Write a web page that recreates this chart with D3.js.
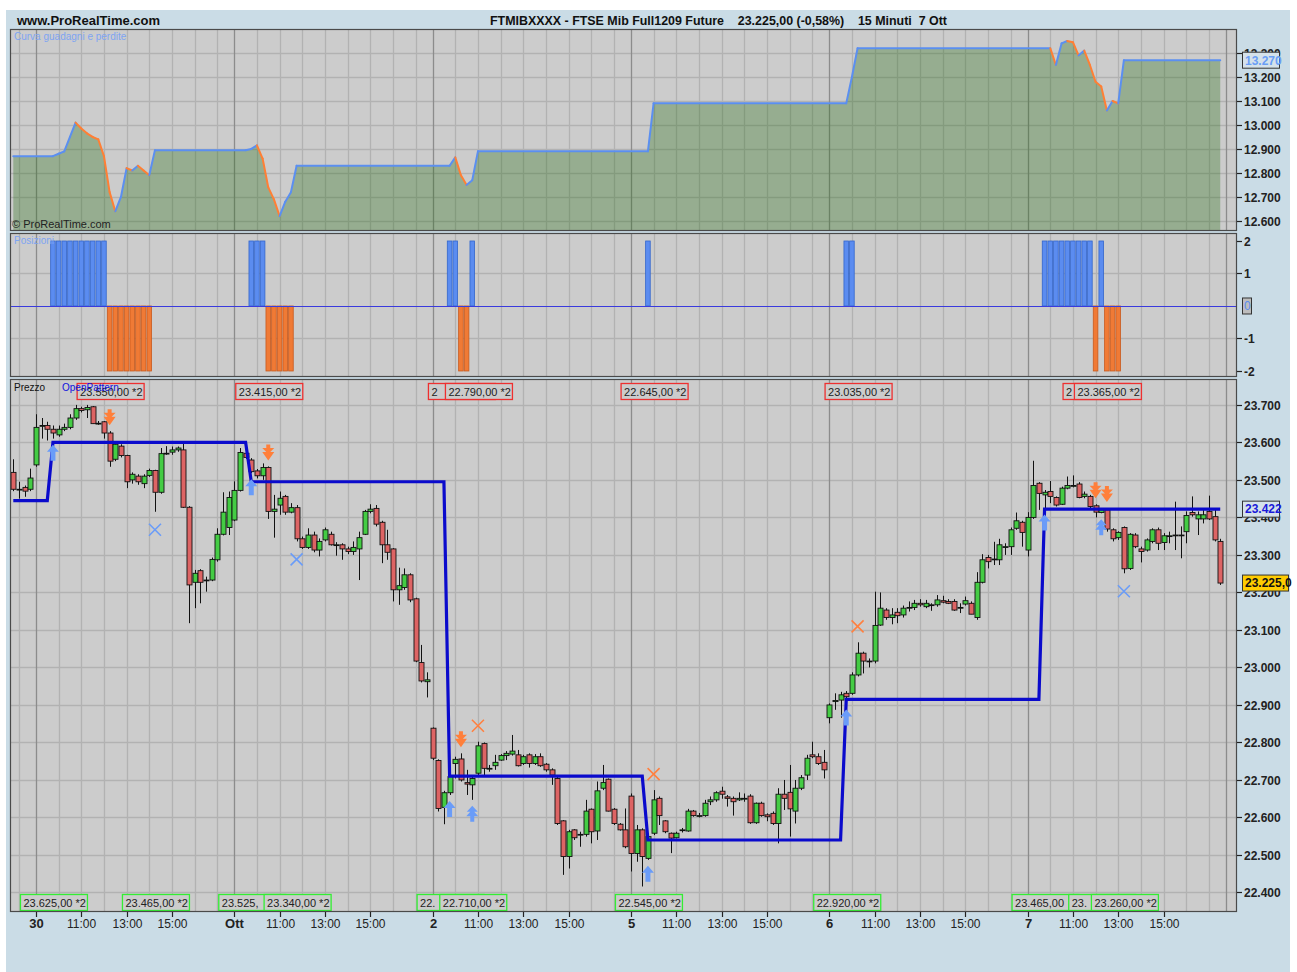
<!DOCTYPE html>
<html>
<head>
<meta charset="utf-8">
<title>FTMIBXXXX - 15 Minuti</title>
<script src="https://cdn.jsdelivr.net/npm/d3@7"></script>
<style>
  body { margin: 0; background: #fff; }
  svg { display: block; }
  text { font-family: "Liberation Sans", Arial, sans-serif; }
</style>
</head>
<body>
<svg id="grafico" width="1297" height="972"></svg>
<script>
// Asse dei tempi
const giorni = ["30", "Ott", "2", "5", "6", "7"];
const orari = ["11:00", "13:00", "15:00"];
const barrePrima = 4;     // 16:45 - 17:30 della seduta precedente
const barreGiorno = 35;   // 9:00 - 17:30, barre da 15 minuti

// Candele: [apertura, massimo, minimo, chiusura]
const barrePre = [[23520,23555,23470,23475],[23475,23495,23450,23475],[23480,23485,23455,23470],[23475,23530,23470,23505]];
const barre30 = [
  [23540,23675,23535,23640],[23645,23665,23610,23645],[23645,23655,23605,23635],[23635,23645,23610,23625],
  [23620,23645,23615,23635],[23635,23650,23630,23640],[23640,23675,23635,23665],[23665,23700,23660,23690],
  [23690,23695,23680,23685],[23687,23700,23665,23693],[23695,23697,23650,23650],[23650,23657,23647,23651],
  [23655,23657,23610,23625],[23625,23630,23535,23550],[23555,23600,23550,23595],[23590,23595,23560,23565],
  [23565,23567,23478,23495],[23500,23520,23490,23515],[23510,23515,23487,23495],[23490,23515,23478,23510],
  [23512,23530,23508,23525],[23525,23527,23415,23467],[23467,23585,23463,23570],[23570,23590,23567,23571],
  [23574,23589,23567,23580],[23580,23589,23575,23585],[23580,23598,23425,23427],[23427,23430,23118,23220],
  [23227,23260,23158,23251],[23258,23262,23171,23227],[23233,23242,23202,23233],[23233,23293,23230,23288],
  [23287,23371,23282,23355],[23355,23467,23352,23414],[23373,23469,23353,23453]
];
const barreOtt = [
  [23393,23496,23390,23472],[23472,23585,23469,23573],[23571,23580,23556,23560],[23553,23558,23518,23522],
  [23524,23529,23504,23511],[23511,23544,23500,23533],[23533,23536,23396,23416],[23416,23460,23346,23422],
  [23433,23469,23407,23451],[23456,23460,23407,23414],[23414,23438,23411,23426],[23426,23433,23336,23343],
  [23343,23349,23316,23320],[23320,23371,23316,23353],[23353,23362,23307,23313],[23313,23344,23296,23336],
  [23340,23373,23336,23367],[23355,23362,23325,23327],[23327,23334,23298,23327],[23327,23331,23287,23316],
  [23316,23322,23302,23309],[23309,23336,23300,23320],[23316,23362,23233,23346],[23355,23420,23353,23416],
  [23416,23435,23411,23422],[23424,23433,23376,23382],[23387,23391,23278,23327],[23327,23367,23287,23307],
  [23316,23318,23176,23207],[23207,23266,23167,23218],[23213,23264,23207,23247],[23247,23251,23174,23180],
  [23183,23186,23014,23017],[23013,23060,22960,22964],[22962,22987,22920,22967]
];
const barre2 = [
  [22838,22840,22753,22758],[22752,22755,22616,22624],[22627,22671,22582,22666],[22666,22727,22660,22709],
  [22744,22762,22704,22755],[22756,22771,22696,22700],[22693,22727,22660,22689],[22687,22713,22647,22704],
  [22718,22802,22713,22791],[22797,22800,22713,22731],[22731,22740,22722,22731],[22738,22767,22727,22747],
  [22753,22769,22751,22765],[22765,22777,22753,22771],[22769,22820,22765,22777],[22767,22780,22736,22738],
  [22744,22767,22740,22762],[22767,22771,22733,22744],[22744,22769,22740,22762],[22762,22771,22735,22738],
  [22742,22745,22722,22727],[22727,22731,22687,22713],[22704,22709,22580,22584],[22591,22593,22447,22496],
  [22496,22567,22464,22562],[22567,22569,22540,22546],[22555,22562,22522,22555],[22555,22647,22549,22617],
  [22622,22624,22531,22562],[22564,22696,22540,22671],[22678,22740,22673,22693],[22702,22704,22616,22617],
  [22622,22625,22580,22584],[22582,22585,22565,22567],[22567,22624,22518,22522]
];
const barre5 = [
  [22657,22664,22456,22504],[22504,22580,22482,22567],[22567,22571,22416,22496],[22491,22553,22487,22549],
  [22558,22673,22553,22647],[22651,22656,22580,22605],[22591,22593,22558,22562],[22558,22560,22505,22545],
  [22546,22562,22544,22558],[22567,22572,22560,22567],[22564,22623,22562,22617],[22617,22620,22602,22605],
  [22605,22612,22600,22605],[22605,22647,22602,22638],[22642,22656,22633,22647],[22647,22670,22642,22666],
  [22670,22682,22650,22662],[22655,22660,22629,22651],[22651,22656,22605,22642],[22647,22667,22644,22651],
  [22651,22664,22642,22651],[22657,22662,22583,22586],[22586,22640,22583,22638],[22638,22642,22602,22605],
  [22607,22611,22590,22602],[22611,22616,22580,22584],[22584,22678,22531,22662],[22662,22700,22620,22651],
  [22667,22740,22549,22623],[22617,22700,22584,22678],[22678,22713,22673,22706],[22713,22767,22700,22758],
  [22767,22802,22758,22762],[22762,22771,22740,22744],[22747,22780,22704,22727]
];
const barre6 = [
  [22866,22904,22851,22900],[22909,22931,22887,22912],[22913,22935,22866,22927],[22931,22937,22904,22922],
  [22931,22987,22927,22980],[22980,23067,22976,23038],[23038,23042,22984,23017],[23017,23024,23000,23017],
  [23017,23202,23011,23112],[23113,23200,23111,23158],[23153,23158,23127,23133],[23133,23158,23115,23140],
  [23147,23158,23118,23138],[23140,23165,23133,23158],[23160,23176,23149,23160],[23160,23180,23153,23171],
  [23171,23182,23162,23167],[23162,23180,23158,23171],[23167,23171,23151,23167],[23167,23193,23162,23180],
  [23178,23191,23171,23174],[23176,23182,23169,23171],[23176,23182,23151,23153],[23160,23171,23145,23160],
  [23169,23189,23165,23178],[23171,23176,23142,23142],[23133,23254,23127,23227],[23227,23302,23224,23287],
  [23293,23300,23264,23282],[23289,23335,23273,23289],[23287,23343,23273,23327],[23322,23331,23300,23322],
  [23322,23373,23300,23367],[23371,23413,23367,23391],[23387,23391,23322,23360]
];
const barre7 = [
  [23313,23414,23296,23400],[23400,23551,23396,23485],[23491,23494,23420,23464],[23460,23473,23424,23467],
  [23469,23497,23438,23456],[23453,23456,23429,23433],[23435,23482,23433,23478],[23478,23509,23475,23485],
  [23485,23512,23480,23485],[23489,23494,23451,23453],[23456,23469,23451,23462],[23456,23460,23425,23429],
  [23431,23435,23400,23414],[23413,23425,23411,23420],[23420,23425,23362,23369],[23367,23371,23336,23343],
  [23346,23363,23340,23360],[23373,23376,23251,23263],[23264,23358,23260,23355],[23353,23358,23318,23322],
  [23316,23322,23280,23309],[23313,23344,23309,23340],[23336,23371,23331,23367],[23367,23373,23313,23331],
  [23333,23358,23313,23351],[23351,23362,23331,23351],[23353,23442,23313,23353],[23353,23376,23291,23351],
  [23362,23416,23331,23405],[23413,23456,23402,23407],[23396,23416,23353,23407],[23396,23424,23384,23407],
  [23416,23458,23393,23396],[23402,23424,23336,23340],[23336,23343,23220,23225]
];

// OpenPattern: [barra da cui parte il livello, livello]
const openPatternLivelli = [[0,23445],[7,23600],[42,23495],[77,22710],[112,22540],[147,22915],[182,23422]];

// Curva guadagni e perdite: [barra, valore]
const equityPunti = [
  [0,12870],[7,12870],[8,12880],[9,12890],[10,12950],[11,13010],[12,12985],[13,12965],[14,12950],[15,12940],
  [16,12870],[17,12720],[18,12640],[19,12700],[20,12820],[21,12810],[22,12830],[23,12810],[24,12790],[25,12895],
  [41,12895],[42,12900],[43,12915],[44,12860],[45,12740],[46,12690],[47,12620],[48,12680],[49,12720],[50,12830],
  [77,12830],[78,12865],[79,12790],[80,12750],[81,12770],[82,12890],[112,12890],[113,13090],[147,13090],
  [148,13200],[149,13320],[183,13320],[184,13250],[185,13340],[186,13350],[187,13345],[188,13290],[189,13310],
  [190,13250],[191,13180],[192,13160],[193,13060],[194,13100],[195,13090],[196,13270],[213,13270]
];

// Posizioni: [prima barra, ultima barra, contratti]
const posizioniTratti = [[7,16,2],[17,24,-2],[42,44,2],[45,49,-2],[77,78,2],[79,80,-2],[81,81,2],[112,112,2],
  [147,148,2],[182,190,2],[191,191,-2],[192,192,2],[193,195,-2]];

// Segnali
const entrateLong = [7, 42, 77, 81, 112, 147, 182, 192];
const doppieLong = [81, 192];
const entrateShort = [17, 45, 79, 191, 193];
const usciteBlu = [25, 50, 196];
const usciteArancio = [82, 113, 149];

// Etichette [barra, prezzo]
const etichetteAlte = [[11,23550],[39,23415],[73,22805],[76,22790],[107,22645],[143,23035],[185,23385],[187,23365]];
const etichetteBasse = [[1,23625],[19,23465],[36,23525],[44,23340],[71,22755],[75,22710],[106,22545],[141,22920],[176,23465],[186,23435],[190,23260]];

// Tick degli assi
const tickPrezzo = [22400,22500,22600,22700,22800,22900,23000,23100,23200,23300,23400,23500,23600,23700];
const tickEquity = [12600,12700,12800,12900,13000,13100,13200,13300];
const tickPosizioni = [-2,-1,1,2];
const ultimoPrezzo = 23225, ultimoOpen = 23422, ultimaEquity = 13270;

// ---------------------------------------------------------------
const svg = d3.select("#grafico");
const loc = d3.formatLocale({decimal: ",", thousands: ".", grouping: [3], currency: ["", "€"]});
const f0 = loc.format(",.0f"), f1 = loc.format(",.1f"), f2 = loc.format(",.2f");

const barre = [].concat(barrePre, barre30, barreOtt, barre2, barre5, barre6, barre7);
const sx = 10, dx = 1237;
const x = d3.scaleLinear().domain([-0.58, 215.96]).range([sx, dx]);
const yEq = d3.scaleLinear().domain([12558, 13400]).range([231, 29]);
const yPos = d3.scaleLinear().domain([-2.185, 2.246]).range([377, 233]);
const yPr = d3.scaleLinear().domain([22348, 23769]).range([912, 379]);

const pannelli = [
  {top: 29, bottom: 231, y: yEq, tick: tickEquity},
  {top: 233, bottom: 377, y: yPos, tick: [-1, 1]},
  {top: 379, bottom: 912, y: yPr, tick: tickPrezzo}
];

// sfondo
svg.append("rect").attr("width", 1297).attr("height", 972).attr("fill", "#fff");
svg.append("rect").attr("x", 6).attr("y", 10).attr("width", 1284).attr("height", 962).attr("fill", "#cadce6");

// griglia verticale: un'ora ogni 4 barre, linea più scura a inizio seduta
const righe = [];
for (let k = 0; k <= 215; k++) {
  const m = (((k - barrePrima) % barreGiorno) + barreGiorno) % barreGiorno;
  if (m % 4 === 0) righe.push({k, giorno: m === 0});
}
const px = v => Math.round(v) + 0.5;

pannelli.forEach(p => {
  const g = svg.append("g");
  g.append("rect").attr("x", sx).attr("y", p.top).attr("width", dx - sx).attr("height", p.bottom - p.top).attr("fill", "#cccccc");
  g.selectAll("line.h").data(p.tick).join("line")
    .attr("x1", sx).attr("x2", dx).attr("y1", d => px(p.y(d))).attr("y2", d => px(p.y(d)))
    .attr("stroke", "#b2b2b2").attr("stroke-width", 1.3);
  g.selectAll("line.v").data(righe).join("line")
    .attr("x1", d => px(x(d.k))).attr("x2", d => px(x(d.k))).attr("y1", p.top).attr("y2", p.bottom)
    .attr("stroke", d => d.giorno ? "#8c8c8c" : "#b2b2b2").attr("stroke-width", 1.3);
});

// --- curva guadagni e perdite
svg.append("path").datum(equityPunti)
  .attr("d", d3.area().x(d => x(d[0])).y0(231).y1(d => yEq(d[1])))
  .attr("fill", "rgba(40,110,20,0.33)");
const segmenti = d3.pairs(equityPunti);
svg.append("g").selectAll("line").data(segmenti).join("line")
  .attr("x1", d => x(d[0][0])).attr("y1", d => yEq(d[0][1]))
  .attr("x2", d => x(d[1][0])).attr("y2", d => yEq(d[1][1]))
  .attr("stroke", d => d[1][1] < d[0][1] ? "#ff7f35" : "#5b8ff0")
  .attr("stroke-width", 2).attr("stroke-linecap", "round");

svg.append("text").attr("x", 14).attr("y", 40).attr("font-size", 10).attr("fill", "#7ea4f2")
  .text("Curva guadagni e perdite");
svg.append("text").attr("x", 12).attr("y", 228).attr("font-size", 11).attr("fill", "#222")
  .text("© ProRealTime.com");

// --- posizioni
const posBarre = [];
posizioniTratti.forEach(([a, b, v]) => { for (let k = a; k <= b; k++) posBarre.push({k, v}); });
svg.append("g").selectAll("rect").data(posBarre).join("rect")
  .attr("x", d => x(d.k) - 2.3).attr("width", 4.6)
  .attr("y", d => Math.min(yPos(d.v), yPos(0))).attr("height", d => Math.abs(yPos(d.v) - yPos(0)))
  .attr("fill", d => d.v > 0 ? "#5b8cf0" : "#f07a35")
  .attr("stroke", d => d.v > 0 ? "#3366cc" : "#c85a1e").attr("stroke-width", 0.8);
svg.append("line").attr("x1", sx).attr("x2", dx).attr("y1", px(yPos(0))).attr("y2", px(yPos(0)))
  .attr("stroke", "#3a3add").attr("stroke-width", 1.2);
svg.append("text").attr("x", 14).attr("y", 244).attr("font-size", 10).attr("fill", "#7ea4f2").text("Posizioni");

// --- candele
const candele = svg.append("g").selectAll("g").data(barre).join("g");
candele.append("line")
  .attr("x1", (d, i) => px(x(i))).attr("x2", (d, i) => px(x(i)))
  .attr("y1", d => yPr(d[1])).attr("y2", d => yPr(d[2]))
  .attr("stroke", "#111").attr("stroke-width", 1);
candele.append("rect")
  .attr("x", (d, i) => px(x(i)) - 2.5).attr("width", 5)
  .attr("y", d => yPr(Math.max(d[0], d[3])))
  .attr("height", d => Math.max(0.8, Math.abs(yPr(d[0]) - yPr(d[3]))))
  .attr("fill", d => d[3] >= d[0] ? "#44cc44" : "#dd6464")
  .attr("stroke", "#111").attr("stroke-width", 0.9);

// --- OpenPattern
const openPattern = barre.map((d, i) => {
  let v = openPatternLivelli[0][1];
  openPatternLivelli.forEach(([k, l]) => { if (i >= k) v = l; });
  return v;
});
svg.append("path").datum(openPattern)
  .attr("d", d3.line().x((d, i) => x(i)).y(d => yPr(d)))
  .attr("fill", "none").attr("stroke", "#0a0acc").attr("stroke-width", 3.2);

// --- segnali
const frecciaSu = "M0,-8 L6,-1 L2.5,-1 L2.5,8 L-2.5,8 L-2.5,-1 L-6,-1 Z";
const doppiaSu = "M0,-8 L5.5,-2 L2,-2 L6,2.5 L2,2.5 L2,8 L-2,8 L-2,2.5 L-6,2.5 L-2,-2 L-5.5,-2 Z";
const doppiaGiu = "M-2,-8 L2,-8 L2,-4.5 L6,-4.5 L2,-0.5 L6,-0.5 L0,8 L-6,-0.5 L-2,-0.5 L-6,-4.5 L-2,-4.5 Z";
svg.append("g").selectAll("path").data(entrateLong).join("path")
  .attr("d", k => doppieLong.includes(k) ? doppiaSu : frecciaSu)
  .attr("transform", k => `translate(${x(k)},${yPr(barre[k][2]) + 14})`)
  .attr("fill", "#6a9cf8");
svg.append("g").selectAll("path").data(entrateShort).join("path")
  .attr("d", doppiaGiu)
  .attr("transform", k => `translate(${x(k)},${yPr(barre[k][1]) - 14})`)
  .attr("fill", "#ff7f3a");
const croce = "M-6,-6 L6,6 M-6,6 L6,-6";
svg.append("g").selectAll("path").data(usciteBlu).join("path")
  .attr("d", croce).attr("transform", k => `translate(${x(k)},${yPr(barre[k][2]) + 18})`)
  .attr("stroke", "#6a9cf8").attr("stroke-width", 1.6).attr("fill", "none");
svg.append("g").selectAll("path").data(usciteArancio).join("path")
  .attr("d", croce).attr("transform", k => `translate(${x(k)},${yPr(barre[k][1]) - 16})`)
  .attr("stroke", "#ff8040").attr("stroke-width", 1.6).attr("fill", "none");

// --- etichette dei massimi / minimi (ogni riquadro copre la coda del precedente)
function etichette(dati, yTop, colore) {
  const larghezza = 67;
  dati.forEach((d, i) => {
    const sinistra = x(d[0]) + 1;
    const prossima = i + 1 < dati.length ? x(dati[i + 1][0]) + 1 : Infinity;
    const visibile = prossima - sinistra;
    const g = svg.append("g").attr("transform", `translate(${sinistra},${yTop})`);
    g.append("rect").attr("x", 0.5).attr("y", 0.5).attr("width", larghezza).attr("height", 16)
      .attr("fill", "#cccccc").attr("stroke", colore).attr("stroke-width", 1.3);
    const t = g.append("text").attr("x", 3.5).attr("y", 12.5).attr("font-size", 11).attr("fill", "#222");
    let s = f2(d[1]) + " *2";
    t.text(s);
    if (visibile < larghezza) {
      while (s.length > 1 && t.node().getComputedTextLength() > visibile - 5) {
        s = s.slice(0, -1);
        t.text(s);
      }
    }
  });
}
etichette(etichetteAlte, 383, "#ee3030");
etichette(etichetteBasse, 894, "#33ee33");

svg.append("text").attr("x", 14).attr("y", 391).attr("font-size", 10).attr("fill", "#111").text("Prezzo");
svg.append("text").attr("x", 62).attr("y", 391).attr("font-size", 10).attr("fill", "#1010dd").text("OpenPattern");

// --- bordi dei pannelli
pannelli.forEach(p => {
  svg.append("rect").attr("x", sx + 0.5).attr("y", p.top + 0.5).attr("width", dx - sx - 1).attr("height", p.bottom - p.top - 1)
    .attr("fill", "none").attr("stroke", "#4a4a4a").attr("stroke-width", 1.2);
});

// --- assi a destra
function assDestra(p, tick, formato) {
  const g = svg.append("g").selectAll("g").data(tick).join("g")
    .attr("transform", d => `translate(${dx},${px(p.y(d))})`);
  g.append("line").attr("x1", 0).attr("x2", 5).attr("stroke", "#222").attr("stroke-width", 1.2);
  g.append("text").attr("x", 7).attr("dy", "0.36em").attr("font-size", 12).attr("font-weight", "bold")
    .attr("fill", "#222").text(formato);
}
assDestra(pannelli[0], tickEquity, f0);
assDestra(pannelli[1], tickPosizioni, d => String(d));
assDestra(pannelli[2], tickPrezzo, f0);

function valoreBox(yv, w, testo, sfondo, colore) {
  svg.append("rect").attr("x", 1242.5).attr("y", yv - 8).attr("width", w).attr("height", 16)
    .attr("fill", sfondo).attr("stroke", "#333").attr("stroke-width", 1);
  svg.append("text").attr("x", 1245).attr("y", yv).attr("dy", "0.36em").attr("font-size", 12)
    .attr("font-weight", "bold").attr("fill", colore).text(testo);
}
valoreBox(yEq(ultimaEquity), 37, f0(ultimaEquity), "#d5e2ea", "#6a9ef5");
svg.append("rect").attr("x", 1242.5).attr("y", yPos(0) - 8).attr("width", 9).attr("height", 16)
  .attr("fill", "#bdbdbd").attr("stroke", "#333");
svg.append("text").attr("x", 1244).attr("y", yPos(0)).attr("dy", "0.36em").attr("font-size", 12)
  .attr("fill", "#5a8cf0").text("0");
valoreBox(yPr(ultimoOpen), 37, f0(ultimoOpen), "#d5e2ea", "#1a1ad8");
valoreBox(yPr(ultimoPrezzo), 46, f1(ultimoPrezzo), "#ffcc00", "#111");

// --- asse dei tempi
const etichetteTempo = [];
righe.forEach(({k}) => {
  const j = k - barrePrima;
  if (j < 0 || j >= giorni.length * barreGiorno) return;
  const m = j % barreGiorno;
  if (m === 0) etichetteTempo.push({k, t: giorni[j / barreGiorno], giorno: true});
  else if (m % 8 === 0 && m <= 24) etichetteTempo.push({k, t: orari[m / 8 - 1], giorno: false});
});
const gt = svg.append("g").selectAll("g").data(etichetteTempo).join("g")
  .attr("transform", d => `translate(${px(x(d.k))},912)`);
gt.append("line").attr("y1", 0).attr("y2", 5).attr("stroke", "#222").attr("stroke-width", 1.2);
gt.append("text").attr("y", 16).attr("text-anchor", "middle")
  .attr("font-size", d => d.giorno ? 13 : 12).attr("font-weight", d => d.giorno ? "bold" : "normal")
  .attr("fill", "#222").text(d => d.t);

// --- intestazione
svg.append("text").attr("x", 17).attr("y", 25).attr("font-size", 13).attr("font-weight", "bold")
  .attr("fill", "#111").attr("textLength", 143).attr("lengthAdjust", "spacingAndGlyphs")
  .text("www.ProRealTime.com");
svg.append("text").attr("x", 490).attr("y", 25).attr("font-size", 13).attr("font-weight", "bold")
  .attr("fill", "#111").style("white-space", "pre").attr("textLength", 457).attr("lengthAdjust", "spacingAndGlyphs")
  .text("FTMIBXXXX - FTSE Mib Full1209 Future    23.225,00 (-0,58%)    15 Minuti  7 Ott");
</script>
</body>
</html>
